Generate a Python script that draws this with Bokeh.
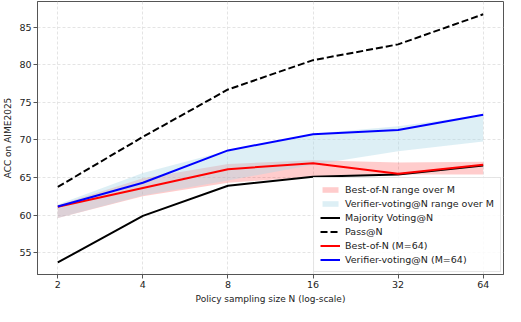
from bokeh.plotting import figure
from bokeh.models import FixedTicker, BasicTickFormatter, Range1d, Legend, LegendItem
from bokeh.embed import file_html
from bokeh.resources import INLINE

N = [2, 4, 8, 16, 32, 64]
majority = [53.7, 59.9, 63.9, 65.1, 65.4, 66.6]
pass_at_n = [63.75, 70.4, 76.7, 80.6, 82.7, 86.7]
best_of_n = [61.1, 63.6, 66.1, 66.9, 65.5, 66.7]
verifier = [61.15, 64.3, 68.6, 70.75, 71.3, 73.35]
bon_low = [59.6, 62.5, 64.3, 65.1, 65.4, 65.4]
bon_high = [61.3, 64.9, 66.8, 67.3, 67.0, 67.1]
ver_low = [59.6, 62.6, 64.6, 66.7, 68.5, 69.8]
ver_high = [61.4, 65.6, 68.6, 70.8, 71.8, 73.35]

FONT = "DejaVu Sans"

p = figure(width=505, height=306, output_backend="svg", toolbar_location=None,
           x_axis_type="log", x_range=Range1d(1.695, 75.5), y_range=Range1d(52.1, 88.4),
           min_border_left=30, min_border_right=2, min_border_top=1, min_border_bottom=26)

r_bon_band = p.varea(x=N, y1=bon_low, y2=bon_high, fill_color="red", fill_alpha=0.2)
r_ver_band = p.varea(x=N, y1=ver_low, y2=ver_high, fill_color="lightblue", fill_alpha=0.42)
r_maj = p.line(N, majority, line_color="black", line_width=2)
r_pass = p.line(N, pass_at_n, line_color="black", line_width=2, line_dash="7 3")
r_bon = p.line(N, best_of_n, line_color="red", line_width=2)
r_ver = p.line(N, verifier, line_color="blue", line_width=2)

p.xaxis.ticker = FixedTicker(ticks=N)
p.xaxis.formatter = BasicTickFormatter()
p.yaxis.ticker = FixedTicker(ticks=[55, 60, 65, 70, 75, 80, 85])
p.xaxis.minor_tick_line_color = None
p.yaxis.minor_tick_line_color = None
p.xaxis.axis_label = "Policy sampling size N (log-scale)"
p.yaxis.axis_label = "ACC on AIME2025"
for ax in (p.xaxis[0], p.yaxis[0]):
    ax.axis_label_text_font = FONT
    ax.axis_label_text_font_style = "normal"
    ax.axis_label_text_font_size = "9px"
    ax.axis_label_text_color = "#222222"
    ax.axis_label_standoff = 3
    ax.major_label_text_font = FONT
    ax.major_label_text_font_size = "9.5px"
    ax.major_label_text_color = "#222222"
    ax.major_label_standoff = 2
    ax.major_tick_out = 4
    ax.major_tick_in = 0
    ax.axis_line_color = "#555555"
    ax.major_tick_line_color = "#555555"

p.outline_line_color = "#555555"
p.outline_line_alpha = 1
p.outline_line_width = 1
p.grid.grid_line_color = "#dddddd"
p.grid.grid_line_dash = "3 2"
p.grid.grid_line_width = 0.8

legend = Legend(items=[
    LegendItem(label="Best-of-N range over M", renderers=[r_bon_band]),
    LegendItem(label="Verifier-voting@N range over M", renderers=[r_ver_band]),
    LegendItem(label="Majority Voting@N", renderers=[r_maj]),
    LegendItem(label="Pass@N", renderers=[r_pass]),
    LegendItem(label="Best-of-N (M=64)", renderers=[r_bon]),
    LegendItem(label="Verifier-voting@N (M=64)", renderers=[r_ver]),
], location="bottom_right")
legend.label_text_font = FONT
legend.label_text_font_size = "9.5px"
legend.label_text_color = "#222222"
legend.label_height = 10
legend.glyph_height = 7
legend.glyph_width = 20
legend.spacing = 3
legend.padding = 6
legend.margin = 2
legend.label_standoff = 5
legend.border_line_color = "#cccccc"
legend.background_fill_alpha = 0.85
p.add_layout(legend)

open("out.html", "w").write(file_html(p, INLINE))
